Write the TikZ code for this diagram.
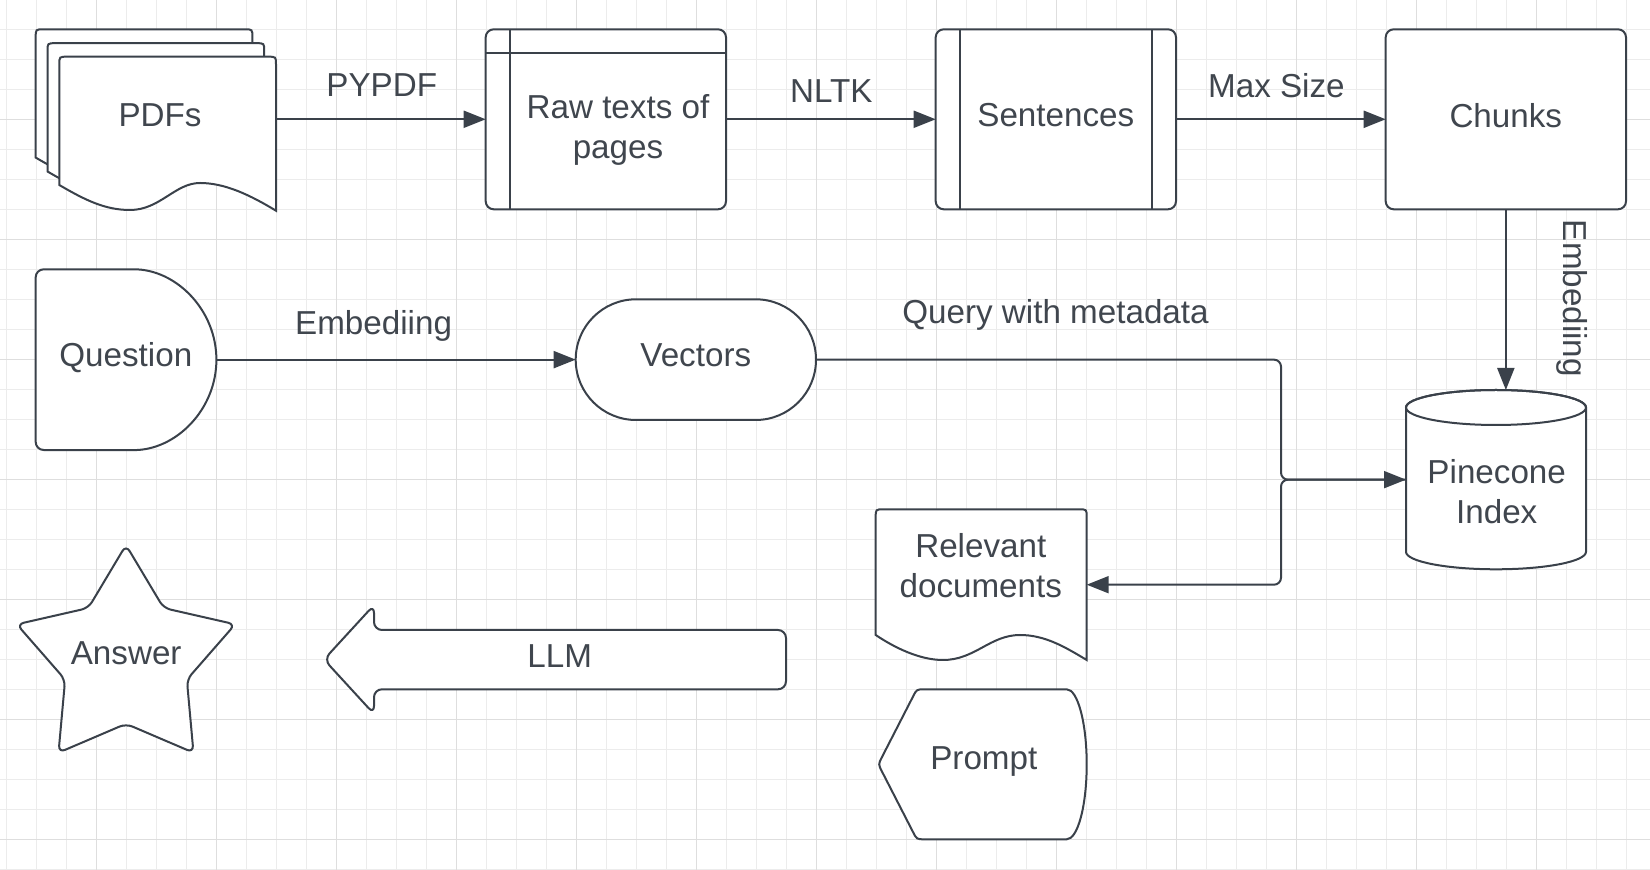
\documentclass[tikz,border=0pt]{standalone}
\usepackage{fontspec}
\setmainfont{Liberation Sans}
\usetikzlibrary{arrows.meta,shapes.misc}
\definecolor{ink}{RGB}{58,65,74}
\definecolor{inktext}{RGB}{64,70,78}
\definecolor{gridminor}{RGB}{236,236,236}
\definecolor{gridmajor}{RGB}{222,222,222}
\tikzset{
  pdfsheet/.pic={
    \draw[draw=ink, line width=1pt, fill=white]
      (276,210.7) .. controls (250,195) and (225,183) .. (200,183)
      .. controls (175,183) and (160,210) .. (130,210)
      .. controls (105,210) and (85,200) .. (59.3,185)
      -- (59.3,64.7) .. controls (59.3,56.7) .. (67.3,56.7)
      -- (268,56.7) .. controls (276,56.7) .. (276,64.7) -- cycle;
  }
}
\begin{document}
\begin{tikzpicture}[x=0.5pt,y=-0.5pt,
  every node/.style={font=\fontsize{16.6pt}{20pt}\selectfont, text=inktext},
  ghost/.style={draw=none, rectangle, inner sep=0pt, outer sep=0pt},
  outline/.style={draw=ink, line width=1pt, fill=white},
  boxnode/.style={outline, rectangle, rounded corners=4pt, inner sep=0pt, outer sep=0pt},
  lbl/.style={anchor=base, inner sep=0pt, outer sep=0pt},
  conn/.style={draw=ink, line width=1pt, -{Triangle[length=11pt,width=8.5pt]}, rounded corners=3.5pt},
  gminor/.style={draw=gridminor, line width=0.5pt},
  gmajor/.style={draw=gridmajor, line width=0.5pt}
]
\useasboundingbox (0,0) rectangle (1650,870);
\fill[white] (0,0) rectangle (1650,870);
% grid
\foreach \gx in {6.7,36.7,...,1650} \draw[gminor] (\gx,0) -- (\gx,870);
\foreach \gy in {0,30,...,870} \draw[gminor] (0,\gy) -- (1650,\gy);
\foreach \gx in {96.7,216.7,...,1650} \draw[gmajor] (\gx,0) -- (\gx,870);
\foreach \gy in {0,120,...,870} \draw[gmajor] (0,\gy) -- (1650,\gy);

% PDFs
\pic at (-23.6,-27.4) {pdfsheet};
\pic at (-11.8,-13.5) {pdfsheet};
\pic at (0,0) {pdfsheet};
\node[ghost, minimum width=108.35pt, minimum height=100pt] (pdf) at (167.65,119.3) {};
\node[lbl] (pdftxt) at (160,127) {PDFs};

% Raw texts
\node[boxnode, minimum width=120.15pt, minimum height=90pt] (raw) at (605.85,119.3) {};
\draw[draw=ink, line width=1pt] ([xshift=12.15pt]raw.north west) -- ([xshift=12.15pt]raw.south west);
\draw[draw=ink, line width=1pt] ([yshift=-12pt]raw.north west) -- ([yshift=-12pt]raw.north east);
\node[lbl, align=center] (rawtxt) at (618,158.8) {Raw texts of\\pages};

% Sentences
\node[boxnode, minimum width=120.15pt, minimum height=90pt] (sen) at (1055.85,119.3) {};
\draw[draw=ink, line width=1pt] ([xshift=12.15pt]sen.north west) -- ([xshift=12.15pt]sen.south west);
\draw[draw=ink, line width=1pt] ([xshift=-12.15pt]sen.north east) -- ([xshift=-12.15pt]sen.south east);
\node[lbl] (sentxt) at (1055.8,127) {Sentences};

% Chunks
\node[boxnode, minimum width=120.15pt, minimum height=90pt] (chk) at (1505.85,119.3) {};
\node[lbl] (chktxt) at (1505.8,127.5) {Chunks};

% Question
\node[ghost, minimum width=90.3pt, minimum height=90.4pt] (q) at (126,359.65) {};
\draw[outline, rounded corners=4pt] (126,269.3) arc[start angle=90, end angle=-90, radius=45.2pt]
  -- (35.7,450) -- (35.7,269.3) -- cycle;
\node[lbl] (qtxt) at (125.8,366.5) {Question};

% Vectors
\node[outline, rounded rectangle, minimum width=120.15pt, minimum height=60.35pt, inner sep=0pt, outer sep=0pt] (vec) at (695.85,359.65) {};
\node[lbl] (vectxt) at (695.8,366.5) {Vectors};

% Pinecone
\node[ghost, minimum width=90pt, minimum height=89.65pt] (pine) at (1496,479.65) {};
\draw[outline] (1406,407.5) -- (1406,551.8) arc[start angle=180, end angle=360, x radius=45pt, y radius=8.75pt]
  -- (1586,407.5) arc[start angle=0, end angle=180, x radius=45pt, y radius=8.75pt] -- cycle;
\draw[draw=ink, line width=1pt] (1496,407.5) ellipse [x radius=45pt, y radius=8.75pt];
\node[lbl, align=center] (pinetxt) at (1496.7,524) {Pinecone\\Index};

% Relevant documents
\node[ghost, minimum width=105.5pt, minimum height=75.4pt] (rel) at (981.2,584.7) {};
\draw[outline] (1086.7,660) .. controls (1065,647) and (1045,635) .. (1020,635)
  .. controls (990,635) and (975,660) .. (943,660)
  .. controls (920,660) and (895,648) .. (875.7,635)
  -- (875.7,517.3) .. controls (875.7,509.3) .. (883.7,509.3)
  -- (1078.7,509.3) .. controls (1086.7,509.3) .. (1086.7,517.3) -- cycle;
\node[lbl, align=center] (reltxt) at (980.8,597.3) {Relevant\\documents};

% Prompt
\node[ghost, minimum width=104.2pt, minimum height=75pt] (prm) at (982.5,764.3) {};
\draw[outline] (1066.7,689.3) -- (924.7,689.3) .. controls (916.7,689.3) .. (913.1,696.4)
  -- (881.9,757.2) .. controls (878.3,764.3) .. (881.9,771.4)
  -- (913.1,832.2) .. controls (916.7,839.3) .. (924.7,839.3)
  -- (1066.7,839.3)
  .. controls (1077.7,839.3) and (1086.7,806) .. (1086.7,764.3)
  .. controls (1086.7,723) and (1077.7,689.3) .. cycle;
\node[lbl] (prmtxt) at (983.8,770) {Prompt};

% LLM arrow
\node[ghost, minimum width=231pt, minimum height=54.5pt] (llm) at (555,659.5) {};
\draw[outline, rounded corners=4pt] (786,630) -- (374,630) -- (374,605) -- (324,659.5) -- (374,714) -- (374,689.3) -- (786,689.3) -- cycle;
\node[lbl] (llmtxt) at (559.7,667.3) {LLM};

% Answer star
\coordinate (ans) at (126,659.8);
\draw[outline, rounded corners=3.5pt, shift={(ans)}]
  (90:57.4pt) -- (126:32pt) -- (162:57.4pt) -- (198:32pt) -- (234:57.4pt) -- (270:32pt)
  -- (306:57.4pt) -- (342:32pt) -- (18:57.4pt) -- (54:32pt) -- cycle;
\node[lbl] (anstxt) at (126.2,665) {Answer};

% connectors
\coordinate (jn) at (1281,479.65);
\draw[conn] (pdf.east) -- (raw.west);
\draw[conn] (raw.east) -- (sen.west);
\draw[conn] (sen.east) -- (chk.west);
\draw[conn] (chk.south) -- (chk.south |- pine.north);
\draw[conn] (q.east) -- (vec.west);
\draw[conn] (vec.east) -| (jn) -- (pine.west);
\draw[conn] (pine.west) -- (jn) |- (rel.east);

% connector labels
\node[lbl] (l1) at (381.7,96.7) {PYPDF};
\node[lbl] (l2) at (831.3,103) {NLTK};
\node[lbl] (l3) at (1276.4,98) {Max Size};
\node[lbl] (l4) at (373.6,334.5) {Embediing};
\node[lbl] (l5) at (1055.5,324) {Query with metadata};
\node[lbl, rotate=-90] (l6) at (1563,298.4) {Embediing};
\end{tikzpicture}
\end{document}
